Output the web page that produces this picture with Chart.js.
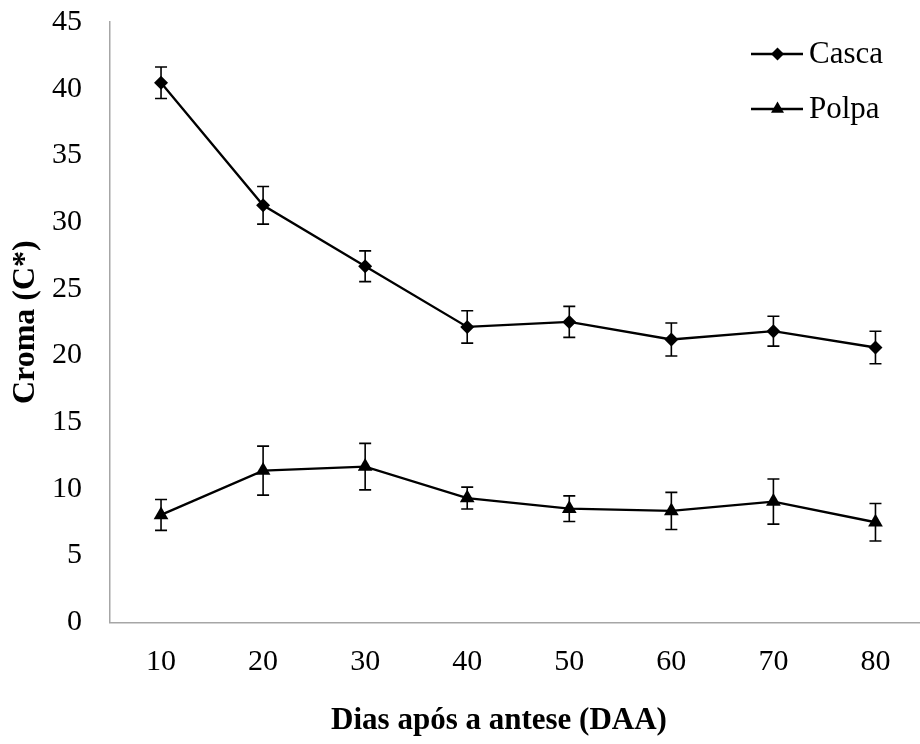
<!DOCTYPE html>
<html>
<head>
<meta charset="utf-8">
<script src="https://cdn.jsdelivr.net/npm/chart.js@4"></script>
<style>
html, body { margin: 0; padding: 0; overflow: hidden; background: #ffffff; width: 920px; height: 744px; }
#wrap { width: 935px; height: 744px; }
canvas { display: block; }
</style>
</head>
<body>
<div id="wrap"><canvas id="c" width="935" height="744"></canvas></div>
<script>
// ---- data ----
const categories = ['10', '20', '30', '40', '50', '60', '70', '80'];
const cascaValues = [40.45, 31.26, 26.69, 22.14, 22.52, 21.20, 21.82, 20.60];
const cascaErrors = [1.18, 1.41, 1.15, 1.21, 1.16, 1.24, 1.12, 1.22];
const polpaValues = [8.05, 11.37, 11.67, 9.31, 8.52, 8.35, 9.05, 7.50];
const polpaErrors = [1.16, 1.84, 1.74, 0.82, 0.96, 1.39, 1.69, 1.41];
const yTickValues = [0, 5, 10, 15, 20, 25, 30, 35, 40, 45];
const seriesNames = ['Casca', 'Polpa'];
const xTitle = 'Dias após a antese (DAA)';
const yTitle = 'Croma (C*)';

const FONT = "'Liberation Serif', 'Times New Roman', serif";
const AXIS_COLOR = '#a6a6a6';

const errorBarPlugin = {
  id: 'errorBars',
  afterDatasetsDraw(chart) {
    const ctx = chart.ctx;
    const yScale = chart.scales.y;
    ctx.save();
    ctx.strokeStyle = '#000';
    ctx.lineWidth = 1.6;
    chart.data.datasets.forEach((ds, i) => {
      const meta = chart.getDatasetMeta(i);
      meta.data.forEach((pt, j) => {
        const v = ds.data[j];
        const e = ds.errors[j];
        const yTop = yScale.getPixelForValue(v + e);
        const yBot = yScale.getPixelForValue(v - e);
        const x = pt.x;
        const cap = 6;
        ctx.beginPath();
        ctx.moveTo(x, yTop); ctx.lineTo(x, yBot);
        ctx.moveTo(x - cap, yTop); ctx.lineTo(x + cap, yTop);
        ctx.moveTo(x - cap, yBot); ctx.lineTo(x + cap, yBot);
        ctx.stroke();
      });
    });
    ctx.restore();
  }
};

const customLegendPlugin = {
  id: 'customLegend',
  afterDraw(chart) {
    const ctx = chart.ctx;
    ctx.save();
    const rows = [54, 109];
    chart.data.datasets.forEach((ds, i) => {
      const y = rows[i];
      ctx.strokeStyle = '#000';
      ctx.lineWidth = 2.3;
      ctx.beginPath();
      ctx.moveTo(751, y); ctx.lineTo(803, y);
      ctx.stroke();
      ctx.fillStyle = '#000';
      ctx.beginPath();
      if (ds.pointStyle === 'rectRot') {
        const r = 6.5;
        ctx.moveTo(777.5 - r, y); ctx.lineTo(777.5, y - r); ctx.lineTo(777.5 + r, y); ctx.lineTo(777.5, y + r);
      } else {
        const r = 7.5;
        ctx.moveTo(777.5, y - r); ctx.lineTo(777.5 + r * 0.866, y + r * 0.5); ctx.lineTo(777.5 - r * 0.866, y + r * 0.5);
      }
      ctx.closePath();
      ctx.fill();
      ctx.font = '31px ' + FONT;
      ctx.textAlign = 'left';
      ctx.textBaseline = 'middle';
      ctx.fillText(ds.label, 809, y + 1);
    });
    // x axis title
    ctx.font = 'bold 31px ' + FONT;
    ctx.textAlign = 'center';
    ctx.textBaseline = 'middle';
    ctx.fillStyle = '#000';
    ctx.fillText(xTitle, 499, 721);
    ctx.restore();
  }
};

new Chart(document.getElementById('c'), {
  type: 'line',
  data: {
    labels: categories,
    datasets: [
      {
        label: seriesNames[0],
        data: cascaValues,
        errors: cascaErrors,
        borderColor: '#000',
        backgroundColor: '#000',
        borderWidth: 2.3,
        pointStyle: 'rectRot',
        pointRadius: 7,
        pointBackgroundColor: '#000',
        pointBorderWidth: 0,
        tension: 0
      },
      {
        label: seriesNames[1],
        data: polpaValues,
        errors: polpaErrors,
        borderColor: '#000',
        backgroundColor: '#000',
        borderWidth: 2.3,
        pointStyle: 'triangle',
        pointRadius: 8.5,
        pointBackgroundColor: '#000',
        pointBorderWidth: 0,
        tension: 0
      }
    ]
  },
  options: {
    responsive: false,
    animation: false,
    devicePixelRatio: 1,
    layout: { padding: { top: 22, right: 4, left: 0, bottom: 0 } },
    plugins: {
      legend: { display: false },
      tooltip: { enabled: false }
    },
    scales: {
      x: {
        type: 'category',
        offset: true,
        grid: { display: false, drawTicks: false },
        border: { display: true, color: AXIS_COLOR, width: 1.5 },
        ticks: { color: '#000', font: { family: FONT, size: 30 }, padding: 22, maxRotation: 0 },
        afterFit(s) { s.height = 121.7; s.paddingLeft = 0; s.paddingRight = 0; }
      },
      y: {
        min: 0,
        max: 45,
        afterBuildTicks(s) { s.ticks = yTickValues.map(v => ({ value: v })); },
        grid: { display: false, drawTicks: false },
        border: { display: true, color: AXIS_COLOR, width: 1.5 },
        ticks: { color: '#000', font: { family: FONT, size: 30 }, padding: 28 },
        title: {
          display: true,
          text: yTitle,
          color: '#000',
          font: { family: FONT, size: 32, weight: 'bold' },
          padding: { top: 7, bottom: 0 }
        },
        afterFit(s) { s.width = 110; s.paddingTop = 0; s.paddingBottom = 0; }
      }
    }
  },
  plugins: [errorBarPlugin, customLegendPlugin]
});
</script>
</body>
</html>
